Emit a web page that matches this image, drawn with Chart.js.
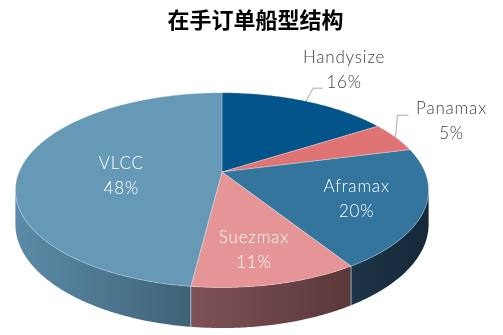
<!DOCTYPE html>
<html>
<head>
<meta charset="utf-8">
<script src="https://cdn.jsdelivr.net/npm/chart.js@4"></script>
<style>
  body { margin: 0; background: #fff; }
</style>
</head>
<body>
<canvas id="pieChart" width="503" height="335"></canvas>
<script>
const categories = ["Handysize", "Panamax", "Aframax", "Suezmax", "VLCC"];
const shares = [16, 5, 20, 11, 48];

const topColors = ["#03548a", "#e07373", "#34759e", "#e69596", "#6699b6"];
const wallLight = ["#02395e", "#8a4444", "#1d3547", "#7e5256", "#5b8ba8"];
const wallDark = ["#012640", "#6a3030", "#142838", "#5a3739", "#3f6276"];

// tilted disk seen in perspective: apex, half axes, foreshortening, rim height
const view = { cx: 222, cy: 172, ax: 203, by: 94, k: 0.186, depth: 33 };

// inside labels: fraction of the radius plus a small nudge
const insideLabels = {
  VLCC: { r: 0.5, dx: 0, dy: 7 },
  Aframax: { r: 0.68, dx: 0, dy: 2 },
  Suezmax: { r: 0.74, dx: -6, dy: 0 }
};
// outside labels: text block centre and leader bends, relative to the rim point
const outsideLabels = {
  Handysize: { center: [38, -31], leader: [[7, -13], [17, -13]] },
  Panamax: { center: [56, -16], leader: [[2, -22], [13, -22]] }
};

function project(theta, r, h) {
  const u = r * Math.cos(theta), v = r * Math.sin(theta);
  const den = 1 - view.k * v;
  return {
    x: view.cx + view.ax * u / den,
    y: view.cy + view.by * v / den + h * view.depth / den
  };
}

function rim(a1, a2, h) {
  const pts = [];
  const n = Math.max(2, Math.ceil(Math.abs(a2 - a1) / 0.01));
  for (let i = 0; i <= n; i++) pts.push(project(a1 + (a2 - a1) * i / n, 1, h));
  return pts;
}

const pie3d = {
  id: "pie3d",
  beforeDatasetsDraw(chart) {
    const ctx = chart.ctx;
    const arcs = chart.getDatasetMeta(0).data;
    const colors = chart.data.datasets[0].backgroundColor;
    const lo = Math.asin(view.k), hi = Math.PI - lo;

    ctx.save();
    // front walls
    arcs.forEach((arc, i) => {
      const a1 = Math.max(arc.startAngle, lo);
      const a2 = Math.min(arc.endAngle, hi);
      if (a2 <= a1) return;
      const pts = rim(a1, a2, 0).concat(rim(a2, a1, 1));
      const xs = pts.map(p => p.x);
      const g = ctx.createLinearGradient(Math.min(...xs), 0, Math.max(...xs), 0);
      g.addColorStop(0, wallLight[i]);
      g.addColorStop(1, wallDark[i]);
      ctx.beginPath();
      pts.forEach((p, j) => j ? ctx.lineTo(p.x, p.y) : ctx.moveTo(p.x, p.y));
      ctx.closePath();
      ctx.fillStyle = g;
      ctx.fill();
      // light seam where the wall starts
      if (arc.startAngle > lo) {
        const t = project(arc.startAngle, 1, 0), b = project(arc.startAngle, 1, 1);
        ctx.beginPath();
        ctx.moveTo(t.x, t.y);
        ctx.lineTo(b.x, b.y);
        ctx.strokeStyle = "rgba(190,215,235,0.7)";
        ctx.lineWidth = 1;
        ctx.stroke();
      }
    });

    // top faces
    arcs.forEach((arc, i) => {
      const pts = rim(arc.startAngle, arc.endAngle, 0);
      ctx.beginPath();
      ctx.moveTo(view.cx, view.cy);
      pts.forEach(p => ctx.lineTo(p.x, p.y));
      ctx.closePath();
      ctx.fillStyle = colors[i];
      ctx.fill();
      ctx.strokeStyle = "rgba(255,255,255,0.35)";
      ctx.lineWidth = 0.8;
      ctx.stroke();
    });
    ctx.restore();
    return false;
  },
  afterDraw(chart) {
    const ctx = chart.ctx;
    const arcs = chart.getDatasetMeta(0).data;
    ctx.save();
    ctx.font = "300 17px Lato";
    ctx.letterSpacing = "0.8px";
    ctx.textAlign = "center";
    ctx.textBaseline = "middle";
    arcs.forEach((arc, i) => {
      const name = categories[i];
      const text = [name, shares[i] + "%"];
      const mid = (arc.startAngle + arc.endAngle) / 2;
      let c;
      if (outsideLabels[name]) {
        const o = outsideLabels[name];
        const s = project(mid, 1, 0);
        ctx.beginPath();
        ctx.moveTo(s.x, s.y);
        o.leader.forEach(d => ctx.lineTo(s.x + d[0], s.y + d[1]));
        ctx.strokeStyle = "#a6a6a6";
        ctx.lineWidth = 1;
        ctx.stroke();
        c = { x: s.x + o.center[0], y: s.y + o.center[1] };
        ctx.fillStyle = "#404040";
      } else {
        const o = insideLabels[name];
        const p = project(mid, o.r, 0);
        c = { x: p.x + o.dx, y: p.y + o.dy };
        ctx.fillStyle = "#ffffff";
      }
      ctx.fillText(text[0], c.x, c.y - 12.5);
      ctx.fillText(text[1], c.x, c.y + 12.5);
    });
    ctx.restore();
  }
};

new Chart(document.getElementById("pieChart"), {
  type: "pie",
  data: {
    labels: categories,
    datasets: [{
      data: shares,
      backgroundColor: topColors,
      borderWidth: 0
    }]
  },
  options: {
    responsive: false,
    animation: false,
    layout: { padding: { left: 8 } },
    plugins: {
      legend: { display: false },
      tooltip: { enabled: false },
      title: {
        display: true,
        text: "在手订单船型结构",
        color: "#000",
        font: { family: "'Noto Sans CJK SC'", size: 22, weight: "bold" },
        padding: { top: 6, bottom: 0 }
      }
    }
  },
  plugins: [pie3d]
});
</script>
</body>
</html>
